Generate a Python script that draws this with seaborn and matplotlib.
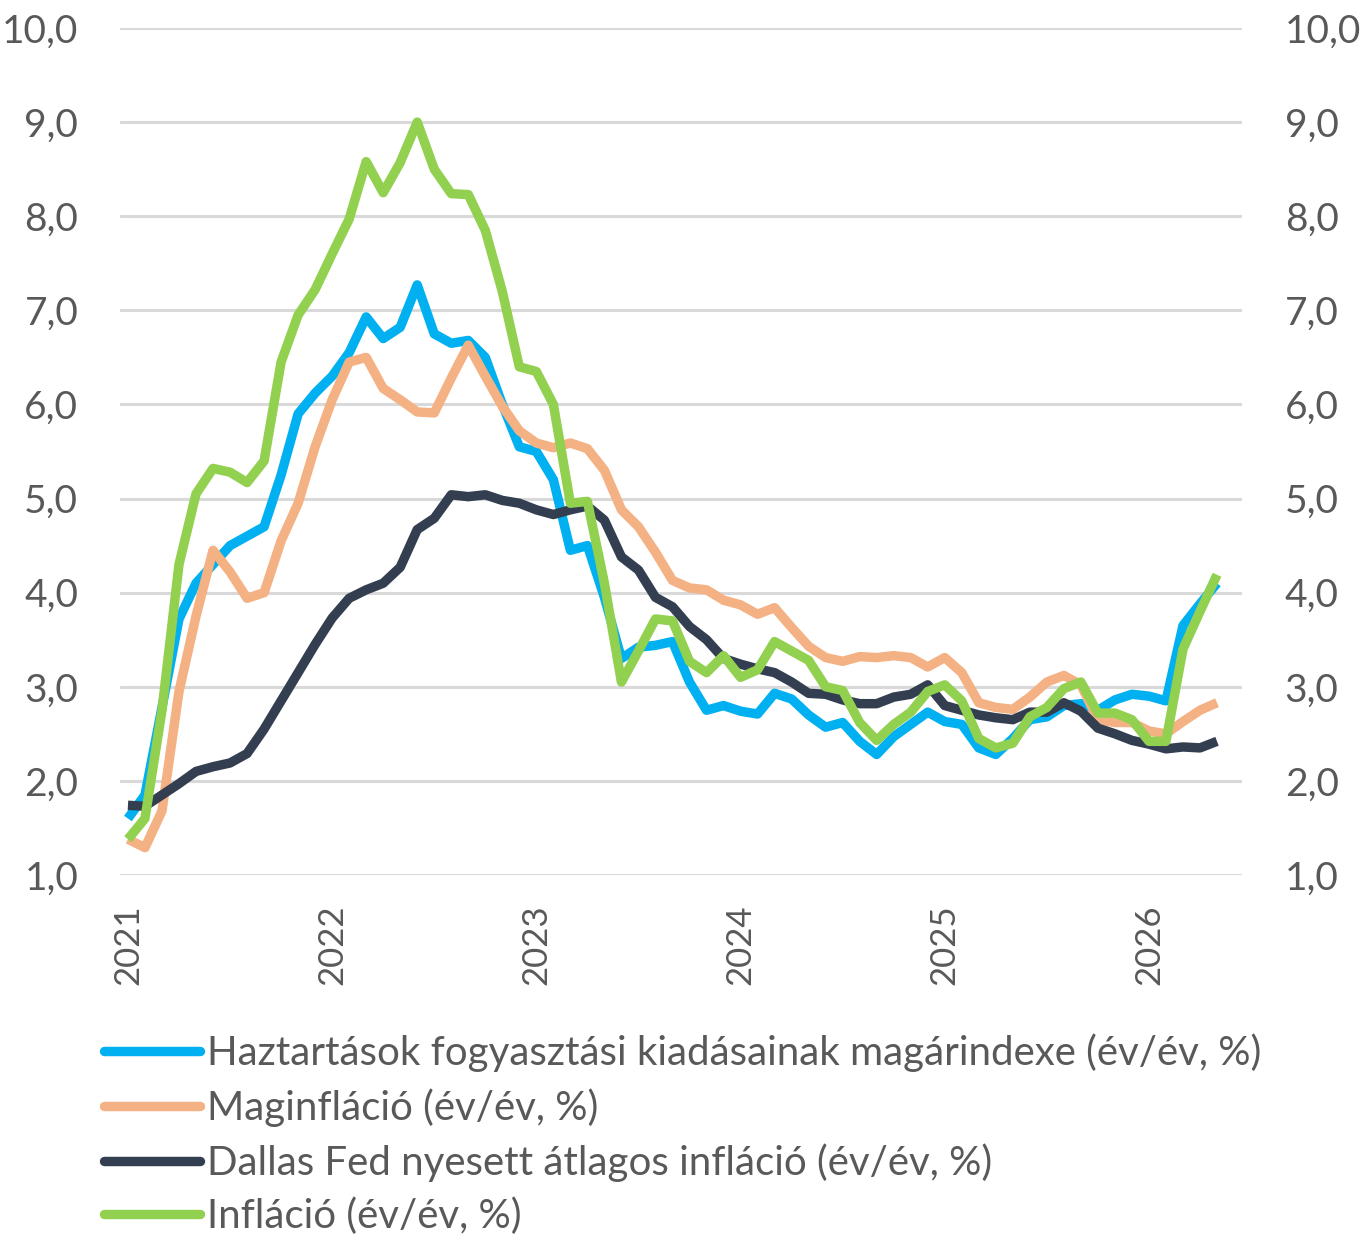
import pandas as pd
import seaborn as sns
import matplotlib.pyplot as plt
from matplotlib.ticker import FuncFormatter

# monthly data, Jan 2021 - May 2026
month_idx = list(range(65))
year_labels = ['2021', '2022', '2023', '2024', '2025', '2026']

pce = [1.60, 1.85, 2.78, 3.72, 4.10, 4.30, 4.50, 4.60, 4.70, 5.25, 5.90, 6.12,
       6.30, 6.55, 6.93, 6.70, 6.82, 7.27, 6.75, 6.65, 6.68, 6.50, 6.00, 5.55,
       5.50, 5.20, 4.45, 4.50, 3.95, 3.30, 3.42, 3.44, 3.48, 3.05, 2.75, 2.80,
       2.74, 2.71, 2.93, 2.87, 2.70, 2.57, 2.62, 2.42, 2.28, 2.47, 2.60, 2.73,
       2.63, 2.60, 2.35, 2.28, 2.45, 2.65, 2.68, 2.80, 2.82, 2.75, 2.86, 2.92,
       2.90, 2.85, 3.65, 3.88, 4.10]
core = [1.38, 1.29, 1.68, 2.95, 3.75, 4.45, 4.22, 3.94, 4.00, 4.55, 4.95, 5.55,
        6.05, 6.45, 6.50, 6.17, 6.05, 5.92, 5.91, 6.28, 6.63, 6.30, 5.98, 5.72,
        5.59, 5.54, 5.59, 5.53, 5.30, 4.88, 4.70, 4.43, 4.13, 4.05, 4.03, 3.92,
        3.87, 3.77, 3.84, 3.63, 3.43, 3.31, 3.27, 3.32, 3.31, 3.33, 3.31, 3.21,
        3.31, 3.15, 2.83, 2.78, 2.76, 2.89, 3.05, 3.12, 3.02, 2.65, 2.62, 2.62,
        2.53, 2.50, 2.63, 2.75, 2.83]
trimmed = [1.74, 1.73, 1.85, 1.97, 2.10, 2.15, 2.19, 2.29, 2.55, 2.85, 3.15, 3.45,
           3.73, 3.94, 4.03, 4.10, 4.27, 4.67, 4.79, 5.04, 5.02, 5.04, 4.98, 4.95,
           4.88, 4.83, 4.88, 4.92, 4.77, 4.38, 4.24, 3.95, 3.85, 3.64, 3.50, 3.30,
           3.24, 3.19, 3.15, 3.05, 2.93, 2.92, 2.86, 2.82, 2.82, 2.89, 2.92, 3.02,
           2.80, 2.75, 2.70, 2.67, 2.65, 2.73, 2.73, 2.83, 2.74, 2.56, 2.50, 2.43,
           2.39, 2.34, 2.36, 2.35, 2.42]
cpi = [1.38, 1.60, 2.75, 4.30, 5.05, 5.32, 5.28, 5.17, 5.40, 6.45, 6.95, 7.22,
       7.60, 7.97, 8.58, 8.25, 8.57, 9.00, 8.50, 8.24, 8.23, 7.85, 7.20, 6.40,
       6.35, 6.00, 4.95, 4.97, 4.10, 3.05, 3.38, 3.72, 3.70, 3.27, 3.15, 3.33,
       3.10, 3.18, 3.48, 3.38, 3.28, 3.00, 2.96, 2.62, 2.43, 2.60, 2.73, 2.95,
       3.02, 2.85, 2.45, 2.35, 2.40, 2.68, 2.78, 2.98, 3.05, 2.72, 2.72, 2.65,
       2.42, 2.42, 3.40, 3.80, 4.19]

series_names = ['Haztartások fogyasztási kiadásainak magárindexe (év/év, %)',
                'Maginfláció (év/év, %)',
                'Dallas Fed nyesett átlagos infláció (év/év, %)',
                'Infláció (év/év, %)']
colors = ['#00B0F0', '#F4B183', '#333F50', '#92D050']

df = pd.DataFrame({'idx': month_idx * 4,
                   'value': pce + core + trimmed + cpi,
                   'series': sum([[n] * 65 for n in series_names], [])})

sns.set_style('white')
plt.rcParams['font.family'] = ['Lato', 'DejaVu Sans']
txt = '#595959'
fs = 28

fig = plt.figure(figsize=(13.63, 12.40), dpi=100)
ax = fig.add_axes([0.088, 0.2944, 0.823, 0.683])

sns.lineplot(data=df, x='idx', y='value', hue='series', hue_order=series_names,
             palette=colors, linewidth=6.8, ax=ax, legend=True,
             solid_joinstyle='round', solid_capstyle='butt')

ax.set_xlim(-0.47, 65.45)
ax.set_ylim(1, 10)
ax.set_yticks(range(1, 11))
ax.set_xticks([0, 12, 24, 36, 48, 60])
ax.set_xticklabels(year_labels, rotation=90, color=txt, fontsize=25)
fmt = FuncFormatter(lambda v, p: f'{v:.1f}'.replace('.', ','))
ax.yaxis.set_major_formatter(fmt)
ax.tick_params(axis='y', labelsize=fs, labelcolor=txt, length=0, pad=30)
ax.tick_params(axis='x', length=0, pad=21)
ax.grid(axis='y', color='#D9D9D9', linewidth=2.2)
ax.set_axisbelow(True)
ax.set_xlabel('')
ax.set_ylabel('')
sns.despine(ax=ax, left=True, bottom=True)

ax2 = ax.twinx()
ax2.set_ylim(1, 10)
ax2.set_yticks(range(1, 11))
ax2.yaxis.set_major_formatter(fmt)
ax2.tick_params(axis='y', labelsize=fs, labelcolor=txt, length=0, pad=31)
sns.despine(ax=ax2, left=True, bottom=True, right=True)

handles, labels = ax.get_legend_handles_labels()
ax.get_legend().remove()
leg = fig.legend(handles, labels, loc='upper left', bbox_to_anchor=(0.0763, 0.1665),
                 frameon=False, fontsize=29, handlelength=2.38, handletextpad=0.17,
                 labelspacing=0.40, borderpad=0, borderaxespad=0, labelcolor=txt)
for h in leg.get_lines():
    h.set_linewidth(6.8)
    h.set_solid_capstyle('round')

plt.savefig('out.png', dpi=100)
